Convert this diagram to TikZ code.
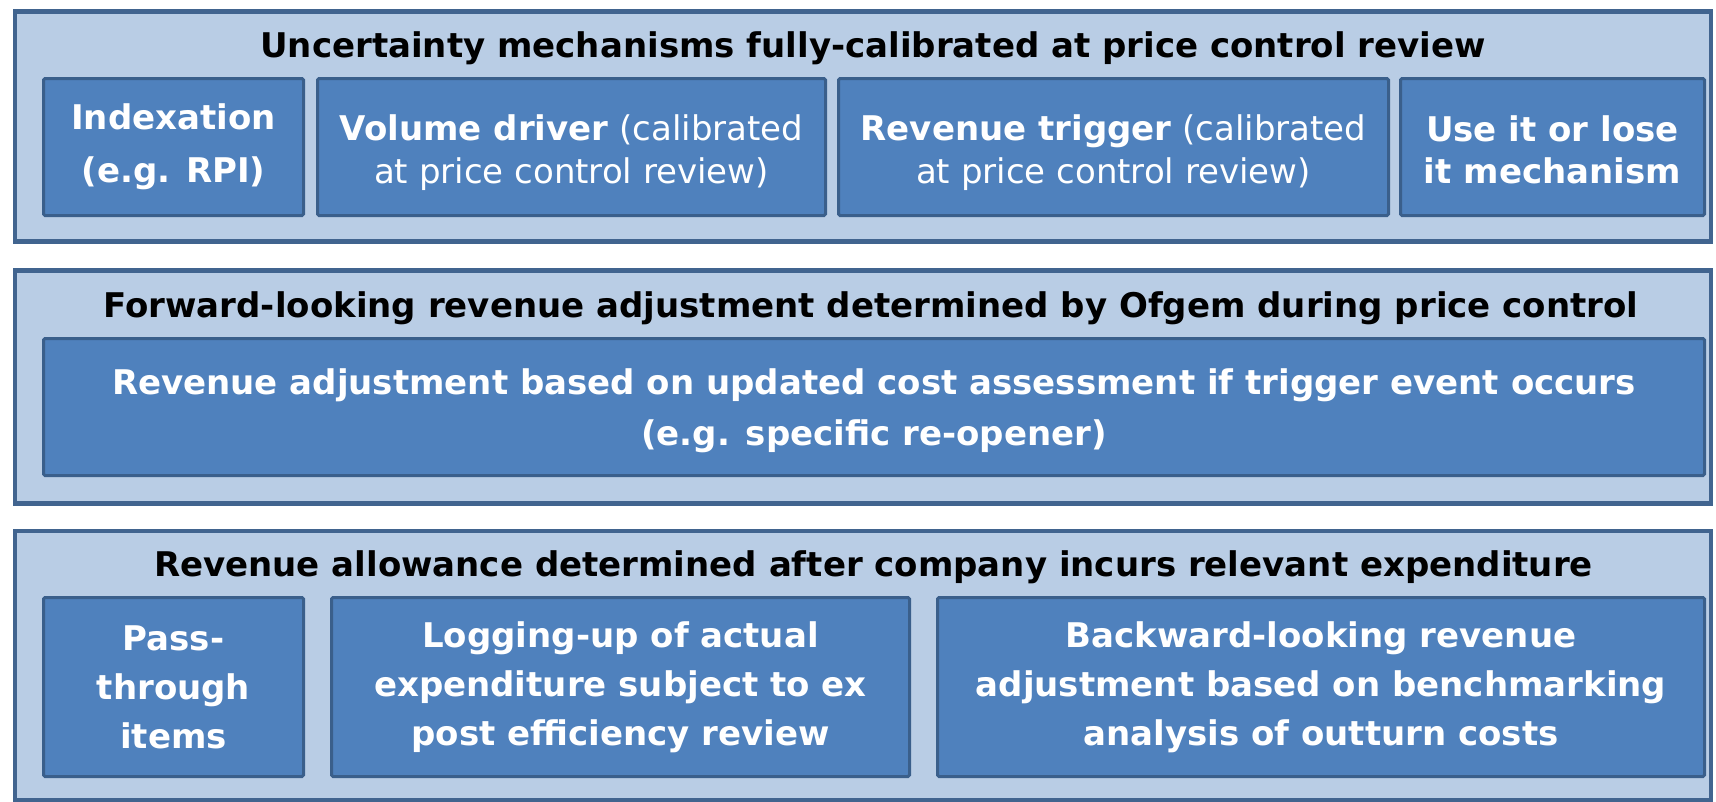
\documentclass[tikz,border=0pt]{standalone}
\usepackage{fontspec}
\setmainfont{DejaVu Sans}
\definecolor{outerfill}{HTML}{B9CDE5}
\definecolor{outerline}{HTML}{41648F}
\definecolor{innerfill}{HTML}{4F81BD}
\definecolor{innerline}{HTML}{3A5F8B}
\begin{document}
\begin{tikzpicture}[x=1pt,y=-1pt,
  group/.style={draw=outerline, fill=outerfill, line width=4.5pt, inner sep=0pt, rectangle},
  item/.style={draw=innerline, fill=innerfill, line width=3pt, rounded corners=1.5pt, text=white, align=center, inner sep=0pt, rectangle},
  itemtext/.style={text=white, align=center, inner sep=0pt},
  ttl/.style={font=\fontsize{34}{40}\selectfont\bfseries, anchor=base, inner sep=0pt}
]
\useasboundingbox (0,0) rectangle (1716,801);
\fill[white] (0,0) rectangle (1716,801);

% group 1
\node[group, minimum width=1696pt, minimum height=230pt] (g1) at (863,126.5) {};
\node[ttl] (t1) at (873,57) {Uncertainty mechanisms fully-calibrated at price control review};
\node[item, minimum width=260pt, minimum height=137pt, font=\fontsize{34}{53}\selectfont\bfseries] (idx) at (173.5,147) {Indexation\\(e.g. RPI)};
\node[item, minimum width=508pt, minimum height=137pt] (vol) at (571.5,147) {};
\node[itemtext, font=\fontsize{34}{43}\selectfont] (voltext) at ([yshift=-6pt]vol.center) {\textbf{Volume driver} (calibrated\\at price control review)};
\node[item, minimum width=550pt, minimum height=137pt] (trig) at (1113.5,147) {};
\node[itemtext, font=\fontsize{34}{43}\selectfont] (trigtext) at ([yshift=-6pt]trig.center) {\textbf{Revenue trigger} (calibrated\\at price control review)};
\node[item, minimum width=304pt, minimum height=137pt] (uioli) at (1552.5,147) {};
\node[itemtext, font=\fontsize{34}{42}\selectfont\bfseries] (uiolitext) at ([yshift=-3pt]uioli.center) {Use it or lose\\it mechanism};

% group 2
\node[group, minimum width=1696pt, minimum height=233pt] (g2) at (863,387) {};
\node[ttl] (t2) at (871,317) {Forward-looking revenue adjustment determined by Ofgem during price control};
\node[item, minimum width=1661pt, minimum height=137pt] (reop) at (874,407) {};
\node[itemtext, font=\fontsize{34}{51}\selectfont\bfseries] (reoptext) at ([yshift=-4pt]reop.center) {Revenue adjustment based on updated cost assessment if trigger event occurs\\(e.g. specific re-opener)};

% group 3
\node[group, minimum width=1696pt, minimum height=269pt] (g3) at (863,665.5) {};
\node[ttl] (t3) at (873.5,576) {Revenue allowance determined after company incurs relevant expenditure};
\node[item, minimum width=260pt, minimum height=179pt, font=\fontsize{34}{49}\selectfont\bfseries] (pass) at (173.5,687) {Pass-\\through\\items};
\node[item, minimum width=578pt, minimum height=179pt, font=\fontsize{34}{49}\selectfont\bfseries] (log) at (620.5,687) {Logging-up of actual\\expenditure subject to ex\\post efficiency review};
\node[item, minimum width=767pt, minimum height=179pt, font=\fontsize{34}{49}\selectfont\bfseries] (back) at (1321,687) {Backward-looking revenue\\adjustment based on benchmarking\\analysis of outturn costs};
\end{tikzpicture}
\end{document}
